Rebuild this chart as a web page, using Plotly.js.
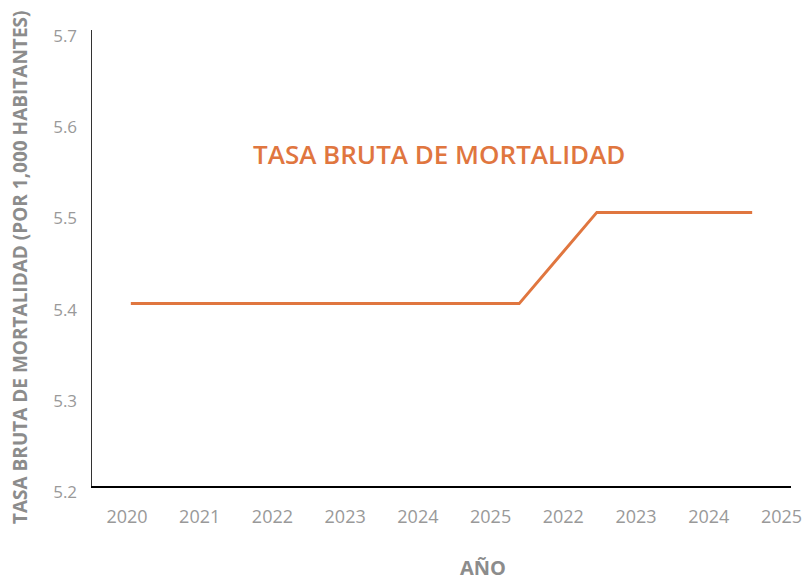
<!DOCTYPE html>
<html>
<head>
<meta charset="utf-8">
<script src="https://cdn.plot.ly/plotly-3.0.1.min.js"></script>
<style>html,body{margin:0;padding:0;background:#fff;}#chart{width:805px;height:583px;}</style>
</head>
<body>
<div id="chart"></div>
<script>
// Tick labels shown under the x axis (as in the reference)
var xLabels = ["2020", "2021", "2022", "2023", "2024", "2025", "2022", "2023", "2024", "2025"];
var xLabelPos = [0, 1, 2, 3, 4, 5, 6, 7, 8, 9];
// Data points of the line (9 points)
var pointIndex = [0, 1, 2, 3, 4, 5, 6, 7, 8];
var mortalityRate = [5.4, 5.4, 5.4, 5.4, 5.4, 5.4, 5.5, 5.5, 5.5];

var orange = "#E0763F";
var gray = "#999999";
var titleGray = "#8C8C8C";

var traces = [
  {
    type: "scatter",
    mode: "lines",
    x: pointIndex,
    y: mortalityRate,
    xaxis: "x2",
    yaxis: "y",
    line: {color: orange, width: 3},
    hoverinfo: "y",
    showlegend: false
  },
  {
    type: "scatter",
    mode: "markers",
    x: xLabelPos,
    y: xLabelPos.map(function(){ return null; }),
    xaxis: "x",
    yaxis: "y",
    showlegend: false,
    hoverinfo: "skip"
  }
];

var layout = {
  width: 805,
  height: 583,
  margin: {l: 92, r: 14, t: 30, b: 97},
  paper_bgcolor: "#ffffff",
  plot_bgcolor: "#ffffff",
  showlegend: false,
  font: {family: "Open Sans, sans-serif", color: gray},
  xaxis: {
    type: "linear",
    range: [-0.481, 9.131],
    tickvals: xLabelPos,
    ticktext: xLabels,
    ticks: "",
    showgrid: false,
    zeroline: false,
    showline: true,
    linecolor: "#000000",
    linewidth: 1.5,
    tickfont: {family: "Open Sans, sans-serif", size: 18, color: gray},
    ticklabelstandoff: 14,
    fixedrange: true
  },
  xaxis2: {
    type: "linear",
    overlaying: "x",
    range: [-0.5, 8.5],
    visible: false,
    fixedrange: true
  },
  yaxis: {
    range: [5.2, 5.7],
    dtick: 0.1,
    tick0: 5.2,
    tickformat: ".1f",
    ticks: "",
    showgrid: false,
    zeroline: false,
    showline: true,
    linecolor: "#333333",
    linewidth: 1.5,
    tickfont: {family: "Open Sans, sans-serif", size: 17, color: gray},
    ticklabelstandoff: 10,
    ticklabelshift: 6,
    fixedrange: true
  },
  annotations: [
    {
      text: "TASA BRUTA DE MORTALIDAD",
      xref: "paper", yref: "paper",
      x: 0.497, y: 0.728,
      xanchor: "center", yanchor: "middle",
      showarrow: false,
      font: {family: "Open Sans, sans-serif", size: 26, color: orange, weight: 600}
    },
    {
      text: "TASA BRUTA DE MORTALIDAD (POR 1,000 HABITANTES)",
      xref: "paper", yref: "paper",
      x: -0.103, y: 0.478,
      xanchor: "center", yanchor: "middle",
      textangle: -90,
      showarrow: false,
      font: {family: "Open Sans, sans-serif", size: 19, color: titleGray, weight: 700}
    },
    {
      text: "AÑO",
      xref: "paper", yref: "paper",
      x: 0.56, y: -0.178,
      xanchor: "center", yanchor: "middle",
      showarrow: false,
      font: {family: "Open Sans, sans-serif", size: 20, color: titleGray, weight: 700}
    }
  ]
};

Plotly.newPlot("chart", traces, layout, {displayModeBar: false, staticPlot: true});
</script>
</body>
</html>
